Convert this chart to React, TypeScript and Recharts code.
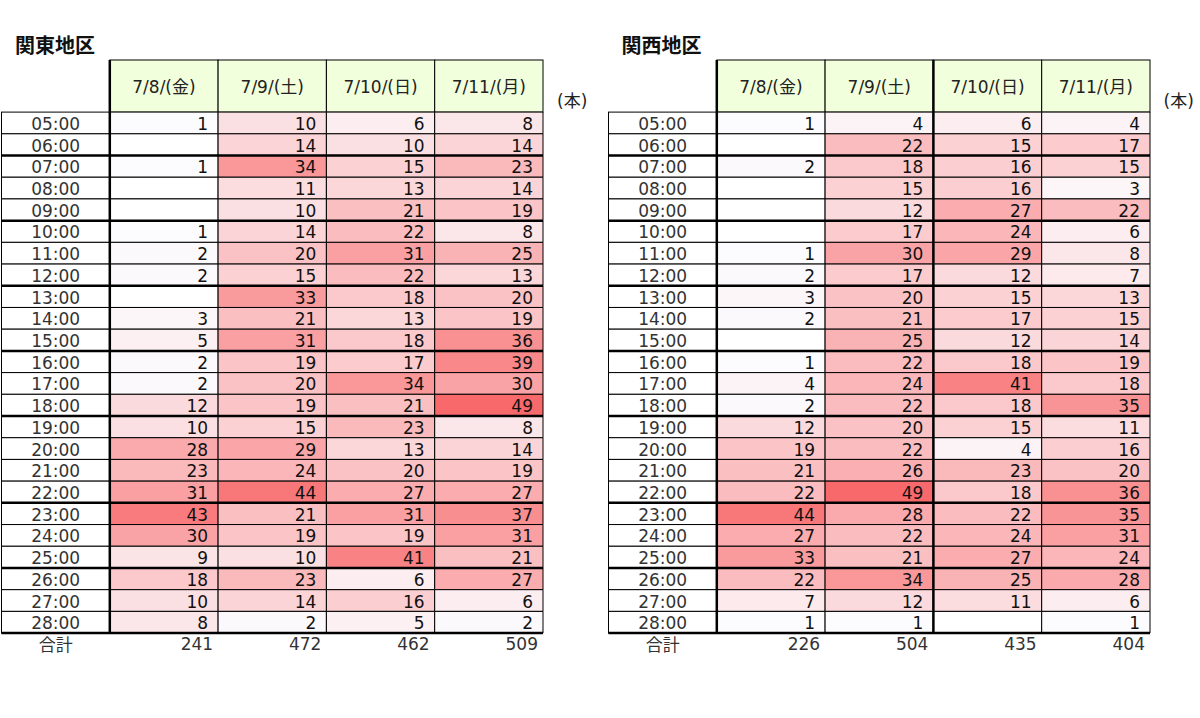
import React from "react";
import { ScatterChart, Scatter, XAxis, YAxis, ReferenceArea, ReferenceLine } from "recharts";

const HOURS = [
  "05:00", "06:00", "07:00", "08:00", "09:00", "10:00", "11:00", "12:00",
  "13:00", "14:00", "15:00", "16:00", "17:00", "18:00", "19:00", "20:00",
  "21:00", "22:00", "23:00", "24:00", "25:00", "26:00", "27:00", "28:00",
];
const DAYS = ["7/8/(金)", "7/9/(土)", "7/10/(日)", "7/11/(月)"];

// 関東地区
const KANTO_0708 = [1, null, 1, null, null, 1, 2, 2, null, 3, 5, 2, 2, 12, 10, 28, 23, 31, 43, 30, 9, 18, 10, 8];
const KANTO_0709 = [10, 14, 34, 11, 10, 14, 20, 15, 33, 21, 31, 19, 20, 19, 15, 29, 24, 44, 21, 19, 10, 23, 14, 2];
const KANTO_0710 = [6, 10, 15, 13, 21, 22, 31, 22, 18, 13, 18, 17, 34, 21, 23, 13, 20, 27, 31, 19, 41, 6, 16, 5];
const KANTO_0711 = [8, 14, 23, 14, 19, 8, 25, 13, 20, 19, 36, 39, 30, 49, 8, 14, 19, 27, 37, 31, 21, 27, 6, 2];
const KANTO_TOTALS = [241, 472, 462, 509];

// 関西地区
const KANSAI_0708 = [1, null, 2, null, null, null, 1, 2, 3, 2, null, 1, 4, 2, 12, 19, 21, 22, 44, 27, 33, 22, 7, 1];
const KANSAI_0709 = [4, 22, 18, 15, 12, 17, 30, 17, 20, 21, 25, 22, 24, 22, 20, 22, 26, 49, 28, 22, 21, 34, 12, 1];
const KANSAI_0710 = [6, 15, 16, 16, 27, 24, 29, 12, 15, 17, 12, 18, 41, 18, 15, 4, 23, 18, 22, 24, 27, 25, 11, null];
const KANSAI_0711 = [4, 17, 15, 3, 22, 6, 8, 7, 13, 15, 14, 19, 18, 35, 11, 16, 20, 36, 35, 31, 24, 28, 6, 1];
const KANSAI_TOTALS = [226, 504, 435, 404];

// rows that start with a heavy rule (index into HOURS), plus the bottom edge
const HEAVY_ROWS = [2, 5, 8, 11, 14, 18, 21, 24];

const FONT = "'DejaVu Sans', 'Noto Sans CJK JP', sans-serif";
const CJK = "'Noto Sans CJK JP', sans-serif";
const HEADER_ROWS = 2.4;
const MIN_COLOR = [252, 252, 255];
const MAX_COLOR = [248, 105, 107];

type Val = number | null;

function scaleColor(v: Val, lo: number, hi: number) {
  if (v == null) return "#ffffff";
  const t = hi === lo ? 0 : (v - lo) / (hi - lo);
  const c = MIN_COLOR.map((m, i) => Math.round(m + (MAX_COLOR[i] - m) * t));
  return `rgb(${c[0]},${c[1]},${c[2]})`;
}

type TableProps = {
  title: string;
  columns: Val[][];
  totals: number[];
  heavyCols: number[];
  left: number;
};

function HeatTable({ title, columns, totals, heavyCols, left }: TableProps) {
  const all = columns.flat().filter((v): v is number => v != null);
  const lo = Math.min(...all);
  const hi = Math.max(...all);

  const points = columns.flatMap((col, c) =>
    col.map((v, r) => ({ x: c + 2, y: r + 0.5, v }))
  );

  return (
    <div style={{ position: "absolute", left, top: 0, width: 600, height: 718 }}>
      <div
        style={{
          position: "absolute",
          left: 15,
          top: 30,
          fontFamily: CJK,
          fontWeight: 700,
          fontSize: 20,
          color: "#111",
        }}
      >
        {title}
      </div>
      <div
        style={{
          position: "absolute",
          left: 557,
          top: 87,
          fontFamily: FONT,
          fontSize: 17,
          color: "#222",
        }}
      >
        (本)
      </div>
      <ScatterChart
        width={600}
        height={718}
        margin={{ top: 60, left: 1.5, right: 57, bottom: 63.2 }}
      >
        <XAxis type="number" dataKey="x" domain={[0, 5]} hide allowDataOverflow />
        <YAxis
          type="number"
          dataKey="y"
          domain={[-HEADER_ROWS, 25]}
          reversed
          hide
          allowDataOverflow
        />

        {DAYS.map((d, i) => (
          <ReferenceArea
            key={"h" + i}
            x1={i + 1}
            x2={i + 2}
            y1={-HEADER_ROWS}
            y2={0}
            ifOverflow="visible"
            shape={(p: any) => (
              <g>
                <rect x={p.x} y={p.y} width={p.width} height={p.height} fill="#f2ffdc" stroke="#000" strokeWidth={1} />
                <text
                  x={p.x + p.width / 2}
                  y={p.y + p.height / 2 + 1}
                  textAnchor="middle"
                  dominantBaseline="central"
                  fontFamily={FONT}
                  fontSize={17}
                  fill="#222"
                >
                  {d}
                </text>
              </g>
            )}
          />
        ))}

        {HOURS.map((h, r) => (
          <ReferenceArea
            key={"l" + r}
            x1={0}
            x2={1}
            y1={r}
            y2={r + 1}
            ifOverflow="visible"
            shape={(p: any) => (
              <g>
                <rect x={p.x} y={p.y} width={p.width} height={p.height} fill="#fff" stroke="#000" strokeWidth={1} />
                <text
                  x={p.x + p.width / 2}
                  y={p.y + p.height / 2 + 1}
                  textAnchor="middle"
                  dominantBaseline="central"
                  fontFamily={FONT}
                  fontSize={17}
                  fill="#333"
                >
                  {h}
                </text>
              </g>
            )}
          />
        ))}

        {columns.flatMap((col, c) =>
          col.map((v, r) => (
            <ReferenceArea
              key={`c${c}-${r}`}
              x1={c + 1}
              x2={c + 2}
              y1={r}
              y2={r + 1}
              ifOverflow="visible"
              fill={scaleColor(v, lo, hi)}
              fillOpacity={1}
              stroke="#000"
              strokeWidth={1}
            />
          ))
        )}

        <Scatter
          data={points}
          isAnimationActive={false}
          shape={(p: any) =>
            p.payload.v == null ? (
              <g />
            ) : (
              <text
                x={p.cx - 10}
                y={p.cy + 1}
                textAnchor="end"
                dominantBaseline="central"
                fontFamily={FONT}
                fontSize={17}
                fill="#111"
              >
                {p.payload.v}
              </text>
            )
          }
        />

        <ReferenceArea
          x1={0}
          x2={1}
          y1={24}
          y2={25}
          ifOverflow="visible"
          shape={(p: any) => (
            <text
              x={p.x + p.width / 2}
              y={p.y + p.height / 2}
              textAnchor="middle"
              dominantBaseline="central"
              fontFamily={CJK}
              fontSize={17}
              fill="#333"
            >
              合計
            </text>
          )}
        />
        {totals.map((t, i) => (
          <ReferenceArea
            key={"t" + i}
            x1={i + 1}
            x2={i + 2}
            y1={24}
            y2={25}
            ifOverflow="visible"
            shape={(p: any) => (
              <text
                x={p.x + p.width - 5}
                y={p.y + p.height / 2}
                textAnchor="end"
                dominantBaseline="central"
                fontFamily={FONT}
                fontSize={17}
                fill="#333"
              >
                {t}
              </text>
            )}
          />
        ))}

        {HEAVY_ROWS.map((r) => (
          <ReferenceLine key={"hr" + r} y={r} stroke="#000" strokeWidth={2.5} ifOverflow="visible" />
        ))}
        {heavyCols.map((c) => (
          <ReferenceLine
            key={"hc" + c}
            segment={[
              { x: c, y: -HEADER_ROWS },
              { x: c, y: 24 },
            ]}
            stroke="#000"
            strokeWidth={2.5}
            ifOverflow="visible"
          />
        ))}
      </ScatterChart>
    </div>
  );
}

export default function App() {
  return (
    <div style={{ position: "absolute", left: 0, top: 0, width: 1200, height: 718, background: "#fff" }}>
      <HeatTable
        title="関東地区"
        columns={[KANTO_0708, KANTO_0709, KANTO_0710, KANTO_0711]}
        totals={KANTO_TOTALS}
        heavyCols={[1]}
        left={0}
      />
      <HeatTable
        title="関西地区"
        columns={[KANSAI_0708, KANSAI_0709, KANSAI_0710, KANSAI_0711]}
        totals={KANSAI_TOTALS}
        heavyCols={[1, 3]}
        left={606.5}
      />
    </div>
  );
}
